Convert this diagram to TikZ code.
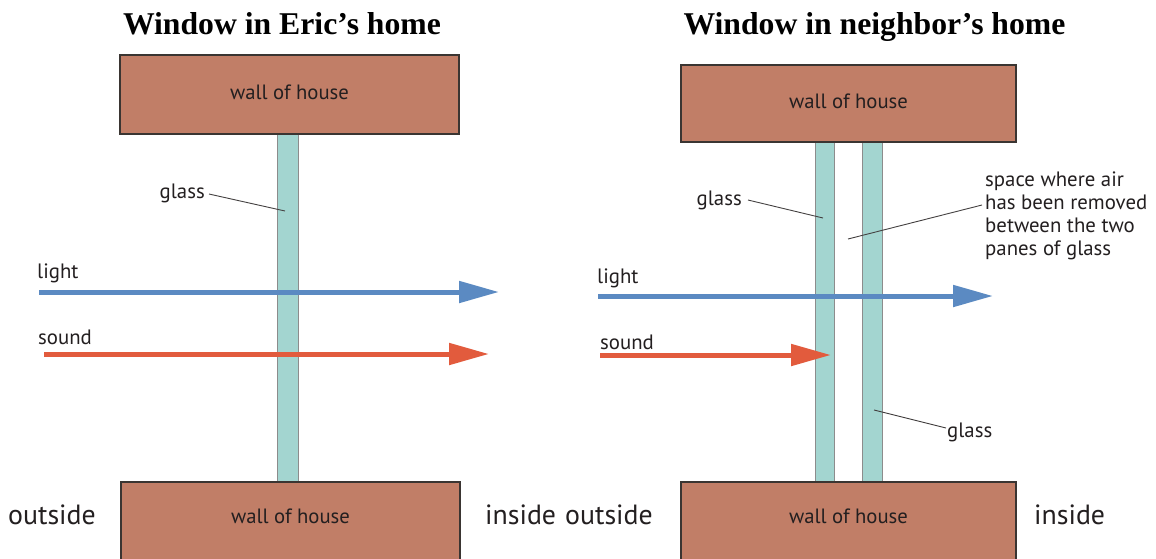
\documentclass[tikz,border=0pt]{standalone}
\usepackage{fontspec}
\setmainfont{Liberation Serif}
\newfontfamily\labfont{PT Sans}
\usetikzlibrary{arrows.meta}
\definecolor{wallc}{HTML}{C17E67}
\definecolor{wallline}{HTML}{3A3532}
\definecolor{glassc}{HTML}{A3D5D0}
\definecolor{glassline}{HTML}{8C8C8C}
\definecolor{lightc}{HTML}{5B8AC2}
\definecolor{soundc}{HTML}{E25B3D}
\definecolor{textc}{HTML}{231F20}
\begin{document}
\begin{tikzpicture}[x=1pt,y=-1pt,
  wall/.style={draw=wallline, fill=wallc, line width=1.2pt, inner sep=0pt},
  walltext/.style={inner sep=0pt, text=textc, font=\labfont\fontsize{20.7}{24}\selectfont},
  pane/.style={draw=glassline, fill=glassc, line width=1pt, inner sep=0pt},
  lab/.style={inner sep=0pt, text=textc, font=\labfont\fontsize{20.8}{23}\selectfont},
  side/.style={inner sep=0pt, text=textc, font=\labfont\fontsize{27.8}{30}\selectfont},
  title/.style={inner sep=0pt, font=\bfseries\fontsize{31.7}{36}\selectfont},
  leader/.style={draw=textc!85, line width=0.9pt},
  lightarr/.style={draw=lightc, line width=5pt, -{Triangle[length=40pt,width=21pt]}},
  soundarr/.style={draw=soundc, line width=5pt, -{Triangle[length=40pt,width=21pt]}}]
\clip (0,0) rectangle (1156,558);
\fill[white] (0,0) rectangle (1156,558);

% titles
\node[title, anchor=base] (t1) at (282,34) {Window in Eric’s home};
\node[title, anchor=base] (t2) at (874.5,34) {Window in neighbor’s home};

% ---------- left panel ----------
\node[pane, minimum width=21pt, minimum height=348pt] (g0) at (287.5,308) {};
\node[wall, minimum width=339pt, minimum height=79pt] (wt1) at (289.5,94.5) {};
\node[walltext] (wt1t) at (289.5,92) {wall of house};
\node[wall, minimum width=339pt, minimum height=80pt] (wb1) at (290.5,522) {};
\node[walltext] (wb1t) at (290.5,516) {wall of house};

\node[lab, anchor=east] (gl0) at (205,193) {glass};
\coordinate (gl0p) at (285,211);
\draw[leader] (gl0.east) ++(4,1) coordinate (gl0s) -- (gl0p);

\node[lab, anchor=west] (li1) at (37,273) {light};
\node[lab, anchor=west] (so1) at (38,337) {sound};
\coordinate (l1s) at (39,292);
\coordinate (l1e) at (499,292);
\coordinate (s1s) at (44,354);
\coordinate (s1e) at (489,354);
\draw[lightarr] (l1s) -- (l1e);
\draw[soundarr] (s1s) -- (s1e);

\node[side, anchor=west] (out1) at (8,515) {outside};
\node[side, anchor=west] (in1) at (485,515) {inside};

% ---------- right panel ----------
\node[pane, minimum width=19pt, minimum height=340pt] (g1) at (824.5,312) {};
\node[pane, minimum width=20pt, minimum height=340pt] (g2) at (872,312) {};
\node[wall, minimum width=335pt, minimum height=77pt] (wt2) at (848.5,103.5) {};
\node[walltext] (wt2t) at (848.5,101) {wall of house};
\node[wall, minimum width=335pt, minimum height=80pt] (wb2) at (848.5,522) {};
\node[walltext] (wb2t) at (848.5,516) {wall of house};

\node[lab, anchor=east] (gl1) at (742,200) {glass};
\coordinate (gl1p) at (823,218);
\draw[leader] (gl1.east) ++(6,0) -- (gl1p);

\node[lab, anchor=west, align=left] (sp) at (985,215.5)
  {space where air\\has been removed\\between the two\\panes of glass};
\coordinate (spp) at (848,239);
\draw[leader] (982,205) -- (spp);

\node[lab, anchor=west] (gl2) at (947,432) {glass};
\coordinate (gl2p) at (874,410);
\draw[leader] (gl2p) -- (946,428);

\node[lab, anchor=west] (li2) at (597,278) {light};
\node[lab, anchor=west] (so2) at (600,342) {sound};
\coordinate (l2s) at (598,296);
\coordinate (l2e) at (993,296);
\coordinate (s2s) at (600,355);
\coordinate (s2e) at (831,355);
\draw[lightarr] (l2s) -- (l2e);
\draw[soundarr] (s2s) -- (s2e);

\node[side, anchor=west] (out2) at (565,515) {outside};
\node[side, anchor=west] (in2) at (1034,515) {inside};
\end{tikzpicture}
\end{document}
